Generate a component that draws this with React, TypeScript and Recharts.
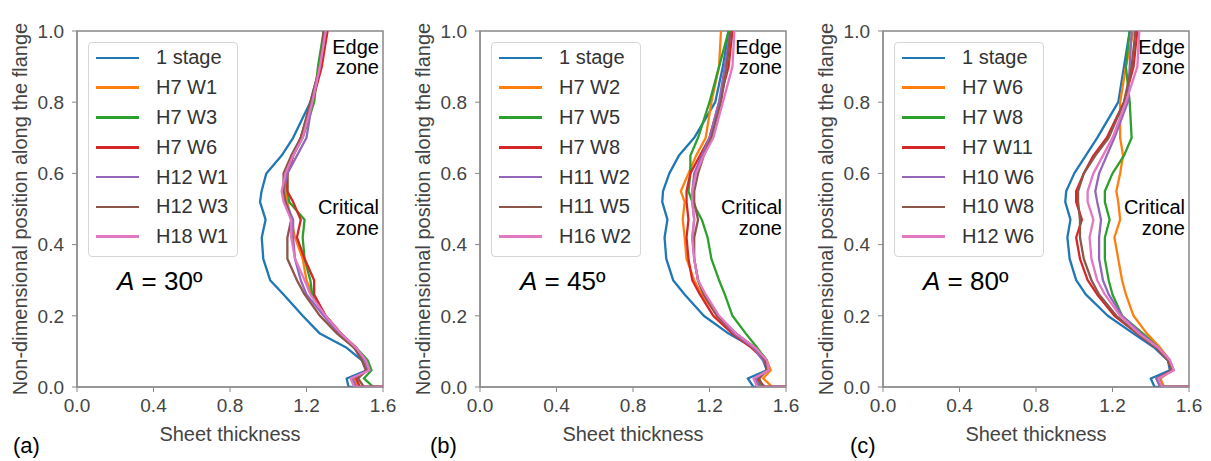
import React from "react";
import { LineChart, Line, XAxis, YAxis, ReferenceArea } from "recharts";

// Sampled positions along the flange (shared by every curve); last point closes at x = 1.6
const Y_POS = [1.0, 0.9, 0.8, 0.7, 0.65, 0.6, 0.55, 0.52, 0.47, 0.42, 0.36, 0.3, 0.26, 0.2, 0.15, 0.11, 0.075, 0.047, 0.024, 0.0, 0.0];

const X_TICKS = [0, 0.4, 0.8, 1.2, 1.6];
const Y_TICKS = [0, 0.2, 0.4, 0.6, 0.8, 1.0];

const COLORS = ["#1f77b4", "#ff7f0e", "#2ca02c", "#d62728", "#9467bd", "#8c564b", "#e377c2"];

// (a) A = 30
const NAMES_30 = ["1 stage", "H7 W1", "H7 W3", "H7 W6", "H12 W1", "H12 W3", "H18 W1"];
const A30_STAGE1 = [1.30, 1.27, 1.22, 1.13, 1.07, 0.99, 0.965, 0.957, 0.986, 0.966, 0.974, 1.01, 1.08, 1.18, 1.27, 1.41, 1.49, 1.515, 1.41, 1.42, 1.6];
const A30_H7W1 = [1.30, 1.27, 1.23, 1.17, 1.13, 1.10, 1.09, 1.10, 1.12, 1.14, 1.18, 1.20, 1.23, 1.30, 1.38, 1.45, 1.50, 1.52, 1.45, 1.47, 1.6];
const A30_H7W3 = [1.29, 1.26, 1.24, 1.18, 1.13, 1.10, 1.10, 1.11, 1.19, 1.18, 1.19, 1.22, 1.23, 1.30, 1.38, 1.46, 1.52, 1.54, 1.50, 1.55, 1.6];
const A30_H7W6 = [1.31, 1.28, 1.23, 1.17, 1.13, 1.10, 1.10, 1.13, 1.17, 1.15, 1.19, 1.24, 1.24, 1.30, 1.38, 1.46, 1.50, 1.52, 1.46, 1.48, 1.6];
const A30_H12W1 = [1.30, 1.27, 1.23, 1.20, 1.15, 1.10, 1.08, 1.09, 1.13, 1.13, 1.14, 1.17, 1.20, 1.29, 1.37, 1.45, 1.50, 1.52, 1.44, 1.46, 1.6];
const A30_H12W3 = [1.29, 1.27, 1.22, 1.17, 1.12, 1.08, 1.08, 1.09, 1.12, 1.10, 1.10, 1.15, 1.19, 1.27, 1.36, 1.45, 1.49, 1.51, 1.47, 1.50, 1.6];
const A30_H18W1 = [1.30, 1.27, 1.23, 1.18, 1.13, 1.09, 1.07, 1.08, 1.12, 1.12, 1.14, 1.19, 1.22, 1.30, 1.38, 1.46, 1.51, 1.53, 1.43, 1.45, 1.6];

// (b) A = 45
const NAMES_45 = ["1 stage", "H7 W2", "H7 W5", "H7 W8", "H11 W2", "H11 W5", "H16 W2"];
const A45_STAGE1 = [1.30, 1.27, 1.23, 1.12, 1.04, 0.99, 0.957, 0.953, 0.98, 0.965, 0.974, 1.01, 1.07, 1.17, 1.30, 1.43, 1.48, 1.50, 1.40, 1.43, 1.6];
const A45_H7W2 = [1.26, 1.25, 1.21, 1.18, 1.13, 1.09, 1.05, 1.07, 1.06, 1.07, 1.08, 1.12, 1.16, 1.24, 1.34, 1.43, 1.50, 1.52, 1.48, 1.53, 1.6];
const A45_H7W5 = [1.30, 1.25, 1.20, 1.14, 1.10, 1.10, 1.09, 1.11, 1.16, 1.19, 1.21, 1.25, 1.28, 1.32, 1.39, 1.45, 1.50, 1.50, 1.44, 1.47, 1.6];
const A45_H7W8 = [1.32, 1.30, 1.25, 1.20, 1.15, 1.10, 1.08, 1.08, 1.09, 1.08, 1.09, 1.11, 1.15, 1.22, 1.32, 1.42, 1.49, 1.50, 1.45, 1.49, 1.6];
const A45_H11W2 = [1.31, 1.28, 1.25, 1.20, 1.16, 1.12, 1.11, 1.11, 1.12, 1.11, 1.12, 1.14, 1.17, 1.24, 1.33, 1.43, 1.48, 1.51, 1.44, 1.46, 1.6];
const A45_H11W5 = [1.31, 1.29, 1.26, 1.21, 1.17, 1.14, 1.12, 1.12, 1.14, 1.12, 1.12, 1.14, 1.17, 1.24, 1.34, 1.44, 1.49, 1.50, 1.46, 1.48, 1.6];
const A45_H16W2 = [1.33, 1.32, 1.27, 1.22, 1.17, 1.13, 1.11, 1.11, 1.12, 1.11, 1.12, 1.14, 1.18, 1.25, 1.34, 1.44, 1.50, 1.51, 1.43, 1.45, 1.6];

// (c) A = 80
const NAMES_80 = ["1 stage", "H7 W6", "H7 W8", "H7 W11", "H10 W6", "H10 W8", "H12 W6"];
const A80_STAGE1 = [1.29, 1.26, 1.23, 1.12, 1.06, 1.00, 0.958, 0.953, 0.98, 0.964, 0.976, 1.01, 1.06, 1.175, 1.31, 1.42, 1.49, 1.50, 1.40, 1.42, 1.6];
const A80_H7W6 = [1.31, 1.27, 1.24, 1.24, 1.255, 1.24, 1.22, 1.23, 1.24, 1.21, 1.23, 1.25, 1.27, 1.31, 1.38, 1.45, 1.50, 1.51, 1.45, 1.47, 1.6];
const A80_H7W8 = [1.29, 1.27, 1.29, 1.30, 1.26, 1.20, 1.16, 1.16, 1.185, 1.16, 1.16, 1.18, 1.20, 1.25, 1.36, 1.44, 1.49, 1.51, 1.44, 1.46, 1.6];
const A80_H7W11 = [1.33, 1.31, 1.26, 1.17, 1.10, 1.05, 1.01, 1.01, 1.04, 1.01, 1.03, 1.07, 1.12, 1.21, 1.33, 1.43, 1.49, 1.51, 1.43, 1.45, 1.6];
const A80_H10W6 = [1.30, 1.29, 1.28, 1.21, 1.17, 1.13, 1.11, 1.12, 1.14, 1.13, 1.13, 1.15, 1.18, 1.25, 1.35, 1.44, 1.50, 1.52, 1.43, 1.45, 1.6];
const A80_H10W8 = [1.32, 1.30, 1.26, 1.18, 1.11, 1.05, 1.02, 1.02, 1.03, 1.03, 1.05, 1.09, 1.13, 1.22, 1.33, 1.43, 1.49, 1.51, 1.44, 1.46, 1.6];
const A80_H12W6 = [1.34, 1.33, 1.27, 1.20, 1.15, 1.10, 1.07, 1.07, 1.10, 1.08, 1.09, 1.12, 1.16, 1.24, 1.34, 1.44, 1.50, 1.52, 1.44, 1.46, 1.6];

const PANELS = [
  { tag: "(a)", tagX: 13, angle: "30", names: NAMES_30, series: [A30_STAGE1, A30_H7W1, A30_H7W3, A30_H7W6, A30_H12W1, A30_H12W3, A30_H18W1] },
  { tag: "(b)", tagX: 27, angle: "45", names: NAMES_45, series: [A45_STAGE1, A45_H7W2, A45_H7W5, A45_H7W8, A45_H11W2, A45_H11W5, A45_H16W2] },
  { tag: "(c)", tagX: 44, angle: "80", names: NAMES_80, series: [A80_STAGE1, A80_H7W6, A80_H7W8, A80_H7W11, A80_H10W6, A80_H10W8, A80_H12W6] },
];

const FONT = "'Liberation Sans', Arial, sans-serif";
const SPINE = "#888";

function toPoints(xs: number[]) {
  return xs.map((x, i) => ({ x, y: Y_POS[i] }));
}

function Panel({ panel, left }: { panel: (typeof PANELS)[number]; left: number }) {
  return (
    <div style={{ position: "absolute", left, top: 0, width: 403, height: 461, fontFamily: FONT }}>
      <LineChart width={403} height={461} margin={{ top: 31, right: 20, bottom: 24, left: 27 }}>
        <XAxis
          type="number"
          dataKey="x"
          domain={[0, 1.6]}
          ticks={X_TICKS}
          tickFormatter={(v: number) => v.toFixed(1)}
          allowDataOverflow
          stroke={SPINE}
          tick={{ fill: "#444", fontSize: 19, fontFamily: FONT }}
          tickSize={5}
          tickMargin={7}
          height={50}
          label={{ value: "Sheet thickness", position: "insideBottom", offset: -4, fill: "#444", fontSize: 20, fontFamily: FONT }}
        />
        <YAxis
          type="number"
          dataKey="y"
          domain={[0, 1]}
          ticks={Y_TICKS}
          tickFormatter={(v: number) => v.toFixed(1)}
          allowDataOverflow
          stroke={SPINE}
          tick={{ fill: "#444", fontSize: 19, fontFamily: FONT }}
          tickSize={5}
          tickMargin={8}
          width={50}
          label={{
            value: "Non-dimensional position along the flange",
            angle: -90,
            position: "insideLeft",
            offset: -7,
            fill: "#444",
            fontSize: 20,
            fontFamily: FONT,
            style: { textAnchor: "middle" },
          }}
        />
        {panel.series.map((xs, i) => (
          <Line
            key={panel.names[i]}
            data={toPoints(xs)}
            dataKey="y"
            type="linear"
            stroke={COLORS[i]}
            strokeWidth={2.3}
            strokeLinejoin="round"
            dot={false}
            isAnimationActive={false}
          />
        ))}
        <ReferenceArea x1={0} x2={1.6} y1={0} y2={1} fill="none" stroke={SPINE} strokeWidth={1.5} />
      </LineChart>

      {/* legend */}
      <div
        style={{
          position: "absolute",
          left: 88,
          top: 42,
          width: 148,
          height: 213,
          border: "1px solid #d6d6d6",
          borderRadius: 4,
          background: "rgba(255,255,255,0.85)",
          boxSizing: "content-box",
        }}
      >
        {panel.names.map((name, i) => (
          <div key={name} style={{ height: 29.8, display: "flex", alignItems: "center" }}>
            <div style={{ marginLeft: 7, width: 43, height: 2.5, background: COLORS[i] }} />
            <span style={{ marginLeft: 17, fontSize: 20, color: "#333", whiteSpace: "nowrap" }}>{name}</span>
          </div>
        ))}
      </div>

      <div style={{ position: "absolute", left: 117, top: 266, fontSize: 26, lineHeight: "30px", color: "#000", whiteSpace: "nowrap" }}>
        <i>A</i> = {panel.angle}º
      </div>

      <div style={{ position: "absolute", right: 403 - 379, top: 37, fontSize: 20, lineHeight: "20px", textAlign: "right", color: "#000" }}>
        Edge
        <br />
        zone
      </div>
      <div style={{ position: "absolute", right: 403 - 379, top: 197, fontSize: 20, lineHeight: "21px", textAlign: "right", color: "#000" }}>
        Critical
        <br />
        zone
      </div>

      <div style={{ position: "absolute", left: panel.tagX, top: 433, fontSize: 22, lineHeight: "26px", color: "#000" }}>{panel.tag}</div>
    </div>
  );
}

export default function App() {
  return (
    <div style={{ position: "absolute", left: 0, top: 0, width: 1211, height: 461, background: "#fff", overflow: "hidden" }}>
      {PANELS.map((p, i) => (
        <Panel key={p.tag} panel={p} left={i * 403} />
      ))}
    </div>
  );
}
